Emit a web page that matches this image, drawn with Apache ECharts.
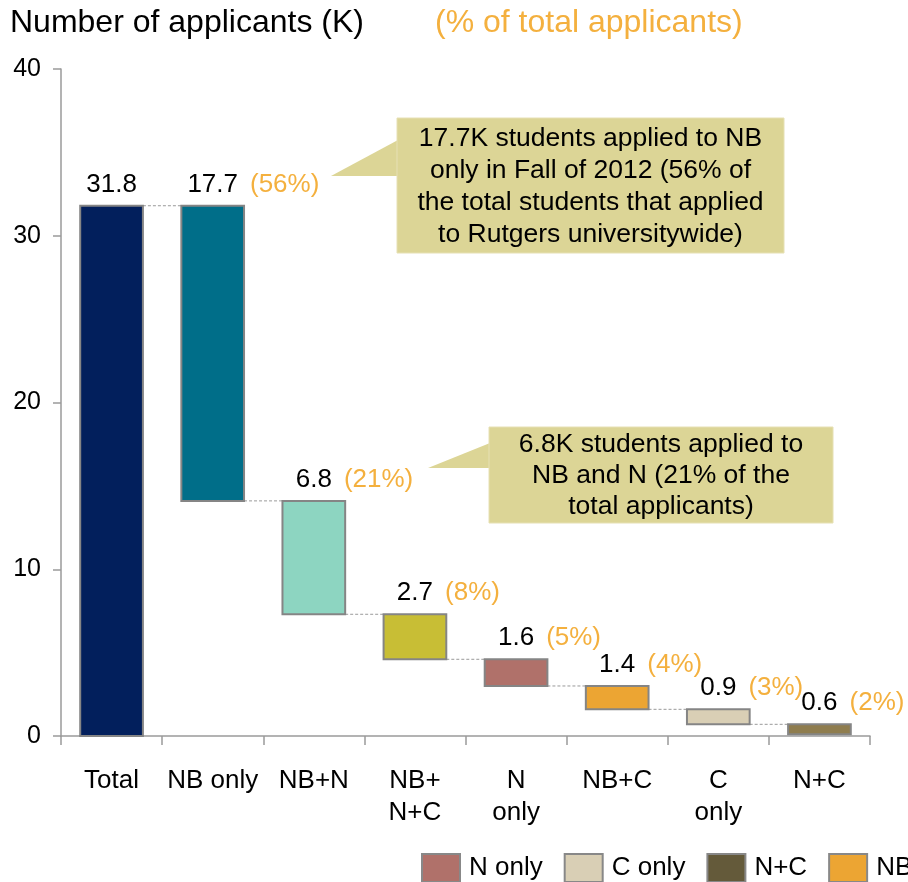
<!DOCTYPE html>
<html><head><meta charset="utf-8">
<script src="https://cdn.jsdelivr.net/npm/echarts@6/dist/echarts.min.js"></script>
<style>html,body{margin:0;padding:0;background:#fff}#c{width:908px;height:882px}</style>
</head><body><div id="c"></div>
<script>
// ---- data ----
const categories = ['Total', 'NB only', 'NB+N', 'NB+\nN+C', 'N\nonly', 'NB+C', 'C\nonly', 'N+C'];
const values = [31.8, 17.7, 6.8, 2.7, 1.6, 1.4, 0.9, 0.6];
const percentLabels = ['', '(56%)', '(21%)', '(8%)', '(5%)', '(4%)', '(3%)', '(2%)'];
const yTicks = [0, 10, 20, 30, 40];
const legendNames = ['N only', 'C only', 'N+C', 'NB+C'];
const callout1 = ['17.7K students applied to NB', 'only in Fall of 2012 (56% of', 'the total students that applied', 'to Rutgers universitywide)'];
const callout2 = ['6.8K students applied to', 'NB and N (21% of the', 'total applicants)'];
const titleMain = 'Number of applicants (K)';
const titlePct = '(% of total applicants)';

// ---- styles ----
const barColors = ['#021f5c', '#006e89', '#8dd5c1', '#c8be35', '#b0716a', '#eca533', '#d9cfb5', '#8f7d4f'];
const legendColors = ['#b0716a', '#d9cfb5', '#645a3a', '#eca533'];
const FONT = '"Liberation Sans", Arial, sans-serif';
const ORANGE = '#f4b03e';
const CALLOUT = '#dcd596';

// waterfall layout (top-down)
const tops = [], bases = [];
values.forEach((v, i) => {
  const t = i === 0 ? v : (i === 1 ? values[0] : bases[i - 1]);
  tops.push(t);
  bases.push(i === 0 ? 0 : Math.round((t - v) * 10) / 10);
});
const wfData = values.map((v, i) => [i, bases[i], tops[i], v]);

const mctx = document.createElement('canvas').getContext('2d');
mctx.font = '26px ' + FONT;
function tw(s) { return mctx.measureText(s).width; }

const chart = echarts.init(document.getElementById('c'), null, { renderer: 'canvas' });

function renderItem(params, api) {
  const i = api.value(0), b = api.value(1), t = api.value(2);
  const pT = api.coord([i, t]), pB = api.coord([i, b]);
  const w = api.size([1, 0])[0] * 0.62;
  const x = pT[0] - w / 2;
  const children = [];
  if (i < values.length - 1) {
    const lvl = i === 0 ? t : b;
    const p = api.coord([i, lvl]), pn = api.coord([i + 1, lvl]);
    children.push({
      type: 'line', shape: { x1: x + w, y1: p[1], x2: pn[0] - w / 2, y2: p[1] },
      style: { stroke: '#9a9a9a', lineWidth: 1, lineDash: [3, 2] }
    });
  }
  children.push({
    type: 'rect', shape: { x: x, y: pT[1], width: w, height: pB[1] - pT[1] },
    style: { fill: barColors[i], stroke: '#858585', lineWidth: 2 }
  });
  const vt = values[i].toFixed(1);
  children.push({
    type: 'text', x: pT[0], y: pT[1] - 8,
    style: { text: vt, font: '26px ' + FONT, fill: '#000', align: 'center', verticalAlign: 'bottom' }
  });
  if (percentLabels[i]) {
    children.push({
      type: 'text', x: pT[0] + tw(vt) / 2 + 12, y: pT[1] - 8,
      style: { text: percentLabels[i], font: '26px ' + FONT, fill: ORANGE, align: 'left', verticalAlign: 'bottom' }
    });
  }
  return { type: 'group', children: children };
}

function callout(box, tip, lines, lh) {
  const cx = box.x + box.w / 2, cy = box.y + box.h / 2;
  return [
    { type: 'polygon', shape: { points: tip }, style: { fill: CALLOUT }, z: 10 },
    { type: 'rect', shape: { x: box.x, y: box.y, width: box.w, height: box.h }, style: { fill: CALLOUT, stroke: '#e6e0b4', lineWidth: 1 }, z: 10 },
    { type: 'text', x: cx, y: cy + 1, z: 11,
      style: { text: lines.join('\n'), font: '26.5px ' + FONT, fill: '#000', align: 'center', verticalAlign: 'middle', lineHeight: lh } }
  ];
}

const option = {
  animation: false,
  backgroundColor: '#fff',
  grid: { left: 61, right: 38, top: 69, bottom: 146, containLabel: false },
  xAxis: {
    type: 'category', data: categories,
    axisLine: { lineStyle: { color: '#9a9a9a', width: 1.5 } },
    axisTick: { show: true, alignWithLabel: false, length: 9, lineStyle: { color: '#9a9a9a', width: 1.5 } },
    axisLabel: { interval: 0, color: '#000', fontSize: 26, fontFamily: FONT, lineHeight: 32, margin: 29 }
  },
  yAxis: {
    type: 'value', min: yTicks[0], max: yTicks[yTicks.length - 1], interval: 10,
    splitLine: { show: false },
    axisLine: { show: true, lineStyle: { color: '#9a9a9a', width: 1.5 } },
    axisTick: { show: true, length: 8, lineStyle: { color: '#9a9a9a', width: 1.5 } },
    axisLabel: { color: '#000', fontSize: 25, fontFamily: FONT, margin: 20 }
  },
  legend: {
    left: 421, top: 853, width: 900, orient: 'horizontal', padding: 0,
    itemWidth: 38, itemHeight: 28, itemGap: 21, icon: 'rect',
    data: legendNames,
    textStyle: { color: '#000', fontSize: 26, fontFamily: FONT, padding: [0, 0, 0, 4] },
    selectedMode: false
  },
  series: [
    { type: 'custom', name: 'waterfall', data: wfData, renderItem: renderItem, z: 3,
      encode: { x: 0, y: [1, 2] } }
  ].concat(legendNames.map((n, k) => ({
    type: 'bar', name: n, data: [],
    itemStyle: { color: legendColors[k], borderColor: '#888', borderWidth: 2 }
  }))),
  graphic: [
    { type: 'text', left: 10, top: 7, style: { text: titleMain, font: '32px ' + FONT, fill: '#000' } },
    { type: 'text', left: 435, top: 7, style: { text: titlePct, font: '32px ' + FONT, fill: ORANGE } }
  ].concat(
    callout({ x: 397, y: 118, w: 387, h: 135 }, [[331, 176], [398, 140], [398, 176]], callout1, 32),
    callout({ x: 489, y: 427, w: 344, h: 96 }, [[428, 468], [490, 443], [490, 468]], callout2, 31)
  )
};
chart.setOption(option);
</script>
</body></html>
